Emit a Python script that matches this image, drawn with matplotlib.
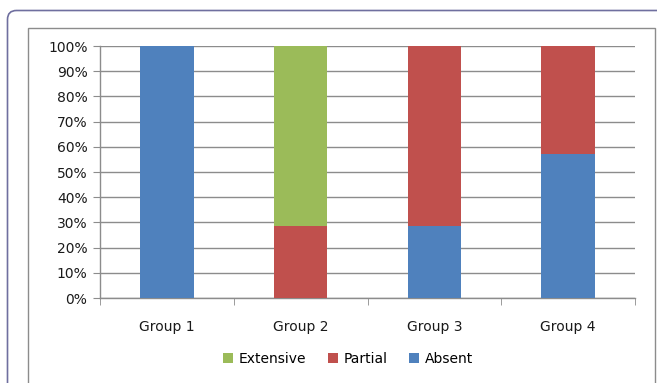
import matplotlib.pyplot as plt
import numpy as np
from matplotlib.patches import PathPatch, Rectangle
from matplotlib.path import Path
from matplotlib import transforms

# Share of cases per group (percent)
groups = ['Group 1', 'Group 2', 'Group 3', 'Group 4']
absent = [100.0, 0.0, 28.6, 57.1]
partial = [0.0, 28.6, 71.4, 42.9]
extensive = [0.0, 71.4, 0.0, 0.0]

c_absent = '#4F81BD'
c_partial = '#C0504D'
c_extensive = '#9BBB59'

W, H = 657, 383
fig = plt.figure(figsize=(W / 100, H / 100), dpi=100)
fig.patch.set_facecolor('white')

# pixel coordinates (origin bottom-left) for the frame drawing
px = transforms.Affine2D().scale(1 / W, 1 / H) + fig.transFigure

# outer frame: only left and top edges are visible, with a rounded corner
r = 9
x0, ytop = 7.5, H - 10.5
frame = Path([(x0, -5), (x0, ytop - r), (x0, ytop), (x0 + r, ytop), (W + 5, ytop)],
             [Path.MOVETO, Path.LINETO, Path.CURVE3, Path.CURVE3, Path.LINETO])
fig.patches.append(PathPatch(frame, transform=px, fill=False,
                             edgecolor='#6f6f9f', linewidth=1.2))

inner = Rectangle((27.5, -5), 655 - 27.5, H - 27.5 + 5, transform=px,
                  fill=False, edgecolor='#8c8c8c', linewidth=1.0)
fig.patches.append(inner)

ax = fig.add_axes([100 / W, 1 - 298 / H, (635 - 100) / W, (298 - 46) / H])

x = np.arange(len(groups))
bw = 0.4
ax.bar(x, absent, bw, color=c_absent, label='Absent', zorder=3)
ax.bar(x, partial, bw, bottom=absent, color=c_partial, label='Partial', zorder=3)
ax.bar(x, extensive, bw, bottom=np.add(absent, partial), color=c_extensive,
       label='Extensive', zorder=3)

ax.set_xlim(-0.5, len(groups) - 0.5)
ax.set_ylim(0, 100)
ax.set_yticks(np.arange(0, 101, 10))
ax.set_yticklabels([f'{v}%' for v in range(0, 101, 10)])
ax.yaxis.grid(True, color='#8c8c8c', linewidth=1.0, zorder=0)

ax.set_xticks(x)
ax.set_xticklabels(groups)
ax.set_xticks(np.arange(-0.5, len(groups)), minor=True)
ax.tick_params(axis='x', which='major', length=0, pad=16, labelsize=10,
               labelcolor='#1a1a1a')
ax.tick_params(axis='x', which='minor', length=5, color='#8c8c8c', direction='out')
ax.tick_params(axis='y', length=5, color='#8c8c8c', direction='out', pad=4,
               labelsize=10, labelcolor='#1a1a1a')

for side in ['top', 'right']:
    ax.spines[side].set_visible(False)
for side in ['left', 'bottom']:
    ax.spines[side].set_color('#8c8c8c')
    ax.spines[side].set_linewidth(1.0)

handles, labels = ax.get_legend_handles_labels()
fig.legend(handles[::-1], labels[::-1], loc='center', ncol=3,
           bbox_to_anchor=(348 / W, 1 - 359 / H), frameon=False,
           fontsize=10, handlelength=0.7, handleheight=0.7,
           handletextpad=0.4, columnspacing=1.6)

fig.savefig('out.png', dpi=100, facecolor='white')
